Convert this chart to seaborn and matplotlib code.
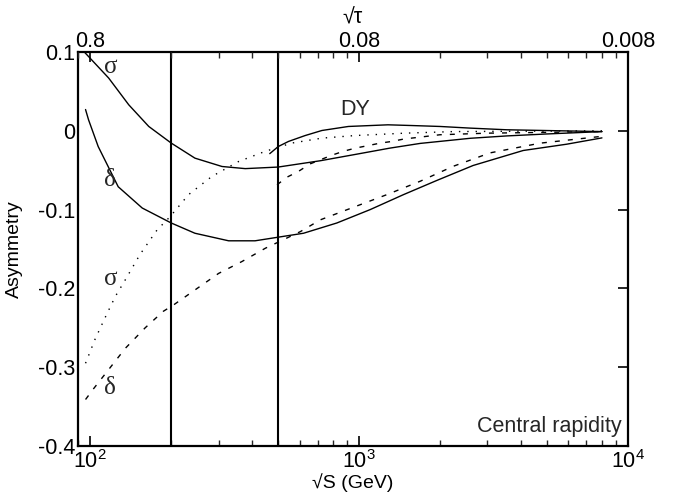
import numpy as np
import pandas as pd
import matplotlib
matplotlib.use("Agg")
import matplotlib.pyplot as plt
import seaborn as sns
from matplotlib.ticker import FixedLocator, FixedFormatter, NullFormatter

# ---------------- data ----------------
# sigma, solid
sig_sol_x = [95, 117, 139, 165, 200, 245, 309, 377, 500, 717, 967, 1300, 1687, 2590, 3540, 5000, 8000]
sig_sol_y = [0.100, 0.067, 0.033, 0.0055, -0.0156, -0.0347, -0.0453, -0.048, -0.046, -0.038, -0.030,
             -0.022, -0.016, -0.0095, -0.0065, -0.004, -0.001]
# delta, solid
del_sol_x = [96, 98.5, 107, 127, 156, 200, 245, 327, 410, 500, 621, 826, 1099, 1462, 1945, 2655, 4075, 5915, 8000]
del_sol_y = [0.027, 0.014, -0.020, -0.071, -0.098, -0.117, -0.130, -0.1396, -0.1396, -0.135, -0.130,
             -0.117, -0.100, -0.081, -0.063, -0.044, -0.025, -0.017, -0.009]
# DY, solid
dy_x = [465, 500, 546, 630, 727, 912, 1280, 1566, 2000, 2590, 3540, 8000]
dy_y = [-0.029, -0.020, -0.0135, -0.006, 0.0004, 0.0055, 0.0076, 0.0067, 0.0055, 0.0034, 0.0013, -0.001]
# sigma, dotted
sig_dot_x = [96, 104, 115, 124, 135, 153, 177, 198, 232, 283, 356, 448, 561, 727, 967, 1480, 2240, 4000, 8000]
sig_dot_y = [-0.295, -0.265, -0.233, -0.210, -0.189, -0.157, -0.126, -0.109, -0.081, -0.058, -0.039,
             -0.026, -0.0156, -0.0093, -0.006, -0.003, -0.001, -0.0005, 0.0]
# delta, dashed
del_dash_x = [96, 103, 117, 135, 160, 187, 204, 245, 300, 366, 448, 495, 604, 717, 953, 1268, 1687,
              2240, 3070, 4710, 8000]
del_dash_y = [-0.341, -0.327, -0.303, -0.276, -0.250, -0.229, -0.221, -0.202, -0.181, -0.166, -0.149,
              -0.142, -0.128, -0.113, -0.097, -0.081, -0.064, -0.045, -0.028, -0.0157, -0.007]
# DY, dashed
dy_dash_x = [495, 538, 594, 657, 727, 791, 874, 967, 1083, 1198, 1324, 1463, 2000, 3000, 8000]
dy_dash_y = [-0.0685, -0.059, -0.0516, -0.042, -0.036, -0.031, -0.026, -0.022, -0.0187, -0.0156,
             -0.0135, -0.0105, -0.005, -0.003, -0.001]

cuts = [200, 500]
bottom_ticks = [100, 1000, 10000]
bottom_labels = [r"$\mathregular{10^2}$", r"$\mathregular{10^3}$", r"$\mathregular{10^4}$"]
top_labels = ["0.8", "0.08", "0.008"]
y_ticks = [0.1, 0.0, -0.1, -0.2, -0.3, -0.4]
y_labels = ["0.1", "0", "-0.1", "-0.2", "-0.3", "-0.4"]

# ---------------- style ----------------
sns.set_theme(style="white")
plt.rcParams["font.family"] = ["Liberation Sans", "DejaVu Sans"]
plt.rcParams["mathtext.fontset"] = "custom"
plt.rcParams["mathtext.rm"] = "Liberation Sans"
plt.rcParams["mathtext.it"] = "Liberation Sans:italic"

FS = 15.5
LFS = 14

fig = plt.figure(figsize=(6.81, 4.93), dpi=100)
ax = fig.add_axes([78 / 681, 1 - 446 / 493, 550 / 681, 394 / 493])

dot = (0, (1, 5))
dash = (0, (3.6, 5.8))
curves = [
    (sig_sol_x, sig_sol_y, "-"),
    (del_sol_x, del_sol_y, "-"),
    (dy_x, dy_y, "-"),
    (sig_dot_x, sig_dot_y, dot),
    (del_dash_x, del_dash_y, dash),
    (dy_dash_x, dy_dash_y, dash),
]
for xs, ys, ls in curves:
    sns.lineplot(x=xs, y=ys, ax=ax, color="black", lw=1.0, linestyle=ls,
                 sort=False, estimator=None)

for c in cuts:
    ax.axvline(c, color="black", lw=1.5)

ax.set_xscale("log")
ax.set_xlim(90, 10000)
ax.set_ylim(-0.4, 0.1)

minor = [m * 10 ** d for d in (1, 2, 3) for m in range(2, 10)]
ax.xaxis.set_major_locator(FixedLocator(bottom_ticks))
ax.xaxis.set_major_formatter(FixedFormatter(bottom_labels))
ax.xaxis.set_minor_locator(FixedLocator(minor))
ax.xaxis.set_minor_formatter(NullFormatter())
ax.yaxis.set_major_locator(FixedLocator(y_ticks))
ax.yaxis.set_major_formatter(FixedFormatter(y_labels))

ax.tick_params(axis="x", which="major", direction="in", length=7, width=1.2,
               labelsize=FS, pad=3, colors="black")
ax.tick_params(axis="x", which="minor", direction="in", length=4, width=1.0)
ax.tick_params(axis="y", which="major", direction="in", length=7, width=1.2,
               labelsize=FS, pad=2, right=True, colors="black")

for s in ax.spines.values():
    s.set_color("black")
    s.set_linewidth(1.6)

ax2 = ax.twiny()
ax2.set_xscale("log")
ax2.set_xlim(ax.get_xlim())
ax2.xaxis.set_major_locator(FixedLocator(bottom_ticks))
ax2.xaxis.set_major_formatter(FixedFormatter(top_labels))
ax2.xaxis.set_minor_locator(FixedLocator(minor))
ax2.xaxis.set_minor_formatter(NullFormatter())
ax2.tick_params(axis="x", which="major", direction="in", length=7, width=1.2,
                labelsize=FS, pad=0, colors="black")
ax2.tick_params(axis="x", which="minor", direction="in", length=4, width=1.0)
ax2.grid(False)
for s in ax2.spines.values():
    s.set_visible(False)

ax.set_xlabel("\u221aS (GeV)", fontsize=LFS, color="black")
ax.xaxis.set_label_coords(0.5, -0.068)
ax.set_ylabel("Asymmetry", fontsize=LFS, color="black")
ax.yaxis.set_label_coords(-0.1, 0.5)
ax2.set_xlabel("\u221a\u03c4", fontsize=FS, color="black")
ax2.xaxis.set_label_coords(0.5, 1.072)

greek = ["Liberation Serif", "DejaVu Serif"]
ax.text(118.7, 0.081, "\u03c3", fontsize=18, family=greek, ha="center", va="center")
ax.text(118.7, -0.062, "\u03b4", fontsize=18, family=greek, ha="center", va="center")
ax.text(118.7, -0.188, "\u03c3", fontsize=18, family=greek, ha="center", va="center")
ax.text(118.7, -0.327, "\u03b4", fontsize=18, family=greek, ha="center", va="center")
ax.text(966, 0.0275, "DY", fontsize=FS, ha="center", va="center")
ax.text(0.989, 0.049, "Central rapidity", fontsize=FS, ha="right", va="center",
        transform=ax.transAxes)

fig.savefig("out.png", dpi=100)
